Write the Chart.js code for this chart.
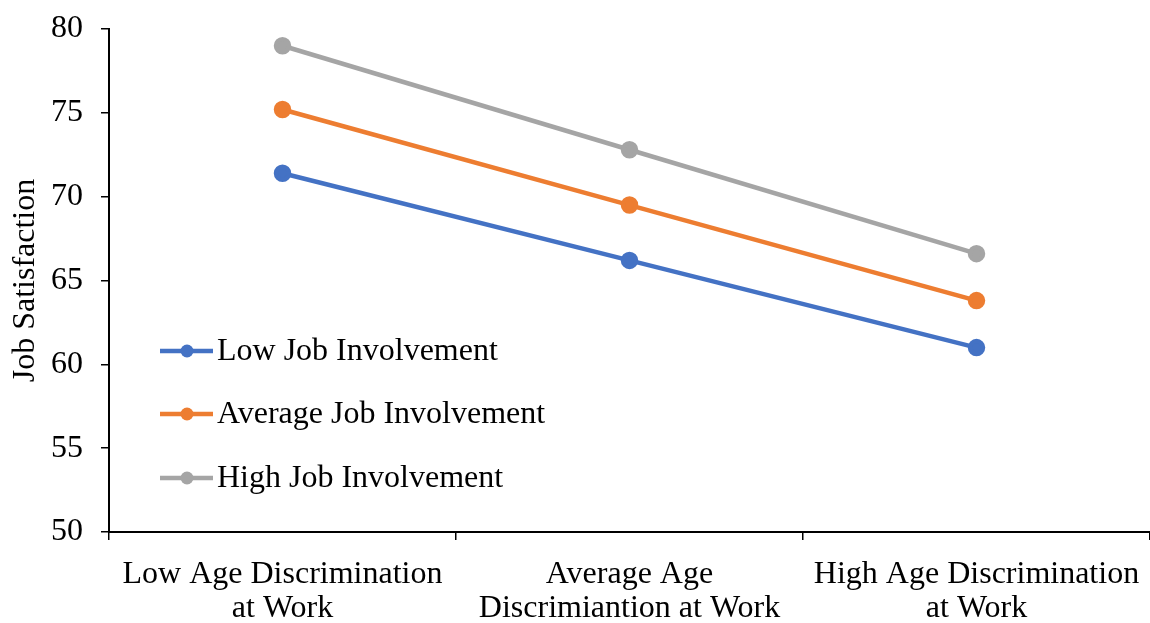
<!DOCTYPE html>
<html>
<head>
<meta charset="utf-8">
<script src="https://cdn.jsdelivr.net/npm/chart.js@4"></script>
<style>
  html, body { margin: 0; padding: 0; background: #fff; }
  #wrap { width: 1150px; height: 623px; }
</style>
</head>
<body>
<div id="wrap"><canvas id="myChart"></canvas></div>
<script>
const categories = [
  ['Low Age Discrimination', 'at Work'],
  ['Average Age', 'Discrimiantion at Work'],
  ['High Age Discrimination', 'at Work']
];
const seriesNames = ['Low Job Involvement', 'Average Job Involvement', 'High Job Involvement'];
const lowValues = [71.4, 66.2, 61.0];
const averageValues = [75.2, 69.5, 63.8];
const highValues = [79.0, 72.8, 66.6];
const seriesColors = ['#4472C4', '#ED7D31', '#A5A5A5'];

const FONT = "'Liberation Serif', 'Times New Roman', serif";

// legend sits inside the plot, bottom-left, like the original
const insideLegend = {
  id: 'insideLegend',
  afterDraw(chart) {
    const ctx = chart.ctx;
    const rows = [351, 414, 478];
    chart.data.datasets.forEach((ds, i) => {
      const y = rows[i];
      ctx.save();
      ctx.strokeStyle = ds.borderColor;
      ctx.lineWidth = 4.5;
      ctx.beginPath();
      ctx.moveTo(160, y);
      ctx.lineTo(213, y);
      ctx.stroke();
      ctx.fillStyle = ds.borderColor;
      ctx.beginPath();
      ctx.arc(187, y, 6.5, 0, Math.PI * 2);
      ctx.fill();
      ctx.fillStyle = '#000';
      ctx.font = '32px ' + FONT;
      ctx.textBaseline = 'middle';
      ctx.fillText(ds.label, 217, y + 1);
      ctx.restore();
    });
  }
};

const makeSet = (label, data, color) => ({
  label: label,
  data: data,
  borderColor: color,
  backgroundColor: color,
  borderWidth: 4.5,
  pointRadius: 6.5,
  pointHoverRadius: 6.5,
  tension: 0
});

new Chart(document.getElementById('myChart'), {
  type: 'line',
  data: {
    labels: categories,
    datasets: [
      makeSet(seriesNames[0], lowValues, seriesColors[0]),
      makeSet(seriesNames[1], averageValues, seriesColors[1]),
      makeSet(seriesNames[2], highValues, seriesColors[2])
    ]
  },
  options: {
    responsive: true,
    maintainAspectRatio: false,
    animation: false,
    layout: { autoPadding: false, padding: { top: 29, right: 0, left: 0, bottom: 0 } },
    plugins: {
      legend: { display: false },
      tooltip: { enabled: false }
    },
    scales: {
      x: {
        offset: true,
        grid: {
          display: true,
          offset: true,
          drawOnChartArea: false,
          color: '#000',
          tickLength: 8,
          lineWidth: 1.5
        },
        border: { color: '#000', width: 2 },
        ticks: {
          color: '#000',
          font: { family: FONT, size: 32, lineHeight: 1.07 },
          padding: 17,
          maxRotation: 0,
          autoSkip: false
        },
        afterFit(scale) {
          scale.height = 91;
          scale.paddingLeft = 0;
          scale.paddingRight = 0;
        }
      },
      y: {
        min: 50,
        max: 80,
        ticks: {
          stepSize: 5,
          color: '#000',
          font: { family: FONT, size: 32 },
          padding: 18
        },
        grid: {
          display: true,
          drawOnChartArea: false,
          color: '#000',
          tickLength: 8,
          lineWidth: 1.5
        },
        border: { color: '#000', width: 2 },
        title: {
          display: true,
          text: 'Job Satisfaction',
          color: '#000',
          font: { family: FONT, size: 32 },
          padding: { top: 6, bottom: 8 }
        },
        afterFit(scale) {
          scale.width = 109;
          scale.paddingTop = 0;
          scale.paddingBottom = 0;
        }
      }
    }
  },
  plugins: [insideLegend]
});
</script>
</body>
</html>
